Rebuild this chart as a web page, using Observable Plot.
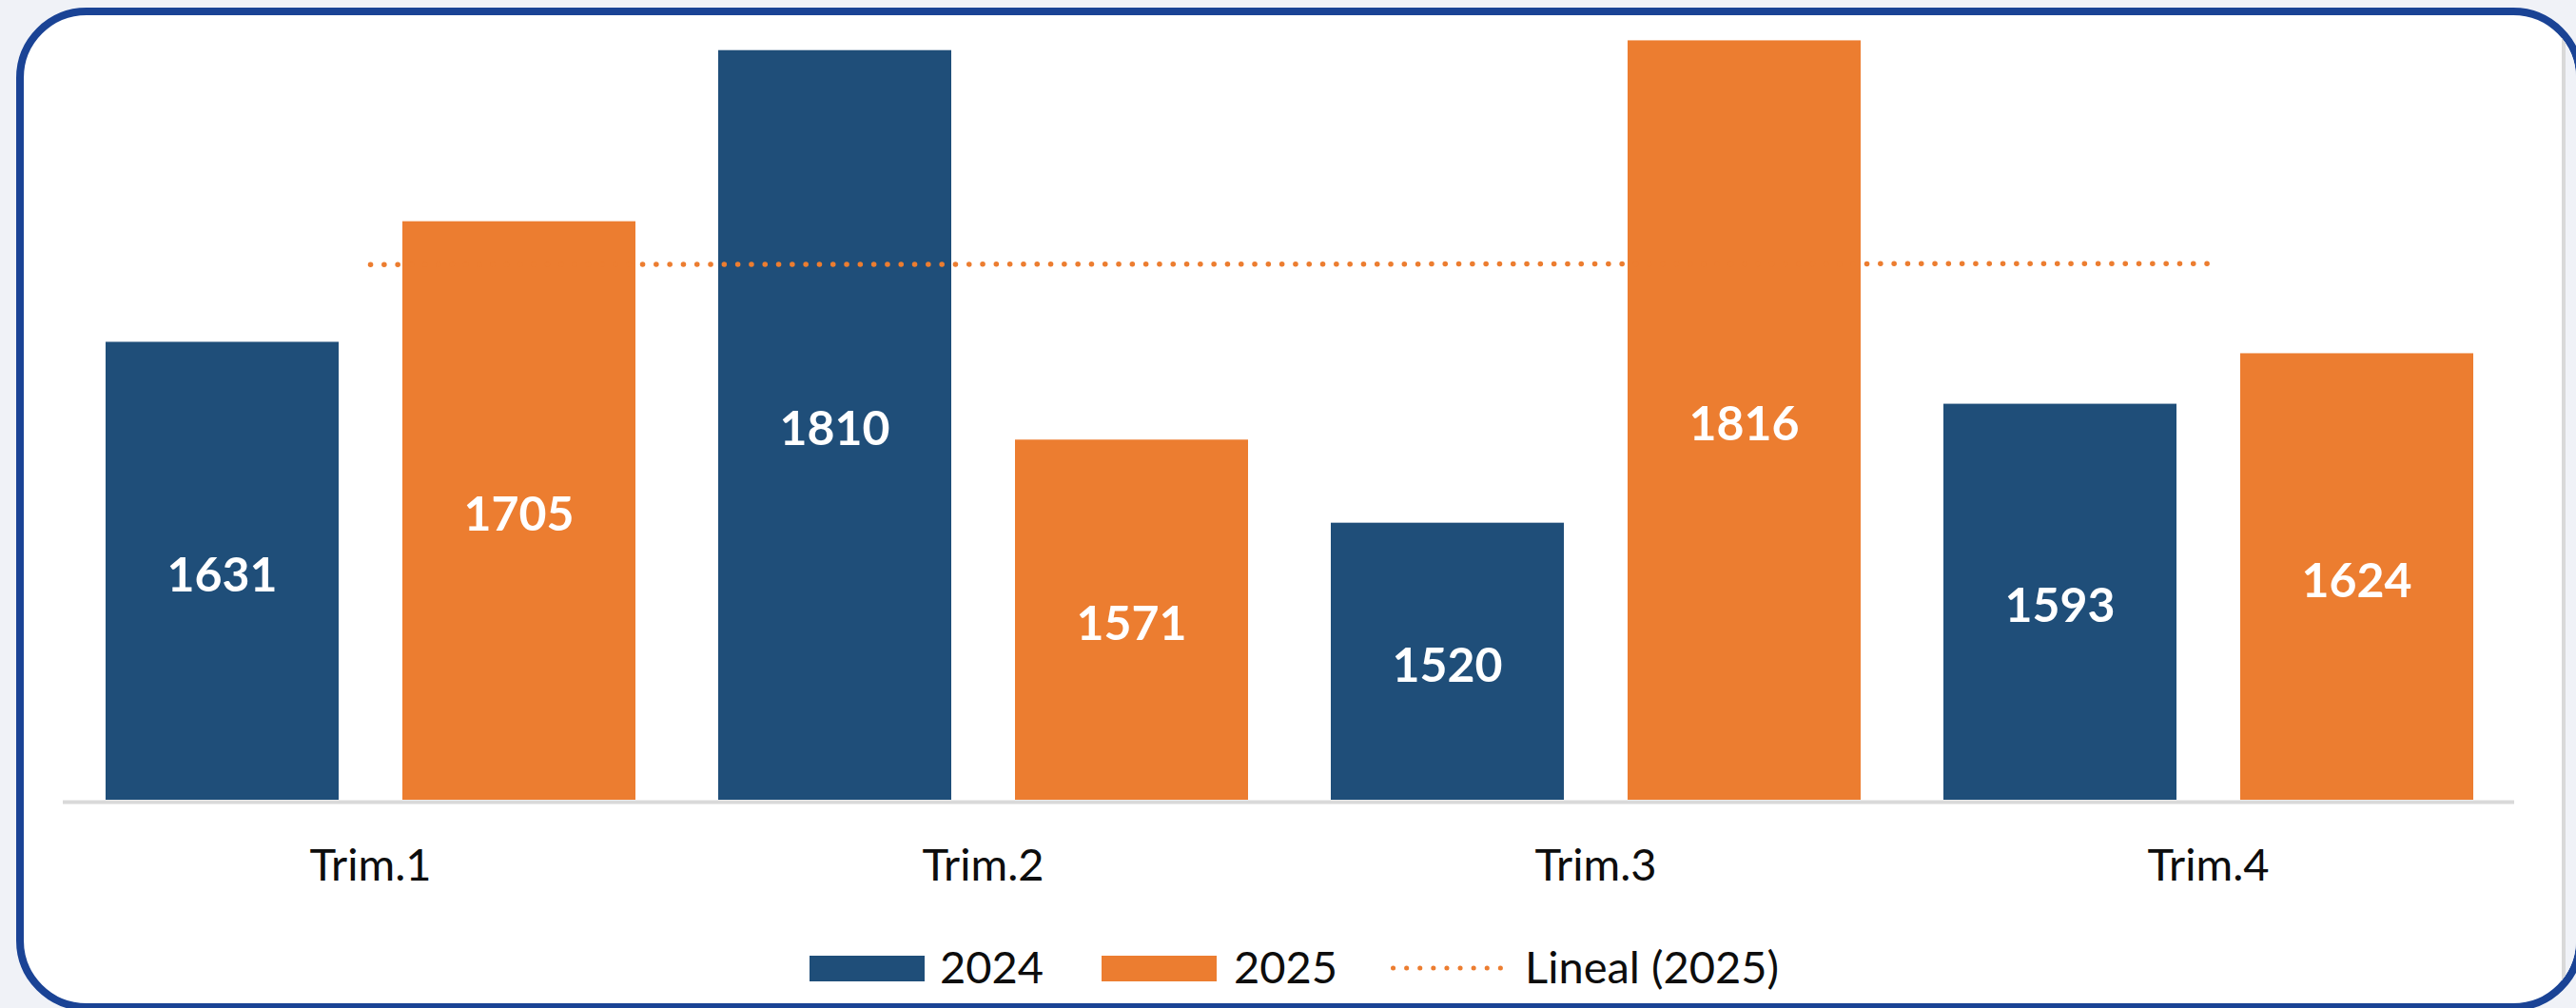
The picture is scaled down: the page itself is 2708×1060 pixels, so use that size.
<!DOCTYPE html>
<html><head><meta charset="utf-8">
<script src="https://cdn.jsdelivr.net/npm/d3@7"></script>
<script src="https://cdn.jsdelivr.net/npm/@observablehq/plot@0.6"></script>
<style>
html,body{margin:0;padding:0;background:#f0f2f7;width:2708px;height:1060px;overflow:hidden;font-family:Lato,"Open Sans",sans-serif;}
#card{position:absolute;left:17px;top:8px;width:2699px;height:1055px;box-sizing:border-box;border:8px solid #1a4395;border-radius:74px;background:#fff;overflow:hidden;}
#strip{position:absolute;left:2668px;top:0;width:60px;height:1100px;background:#f0f2f7;border-left:4px solid #d9d9d9;box-sizing:border-box;}
#chart{position:absolute;left:0;top:0;}
.sw{position:absolute;top:1005px;height:27px;width:121px;}
.lt{position:absolute;top:988px;font-size:47px;line-height:56px;color:#0d0d0d;white-space:nowrap;}
</style></head>
<body>
<div id="card"><div id="strip"></div></div>
<div id="chart"></div>
<div id="legend"></div>
<script>
const quarters = ["Trim.1","Trim.2","Trim.3","Trim.4"];
const years = ["2024","2025"];
const values2024 = [1631,1810,1520,1593];
const values2025 = [1705,1571,1816,1624];
const trendLabel = "Lineal (2025)";
const yMin = 1350, yMax = 1825;

const blue = "#1F4E79", orange = "#EC7D30";

const rows2024 = quarters.map((q,i)=>({quarter:q, year:years[0], value:values2024[i]}));
const rows2025 = quarters.map((q,i)=>({quarter:q, year:years[1], value:values2025[i]}));

// linear trendline over 2025 series (as Excel "Lineal")
const xs = d3.range(1, values2025.length + 1);
const mx = d3.mean(xs), my = d3.mean(values2025);
const slope = d3.sum(xs, (x,i)=>(x-mx)*(values2025[i]-my)) / d3.sum(xs, x=>(x-mx)**2);
const trend = quarters.map((q,i)=>({quarter:q, value: my + slope*(xs[i]-mx)}));

const plot = Plot.plot({
  width: 2693, height: 960,
  marginLeft: 66, marginRight: 50, marginTop: 27, marginBottom: 119,
  x: {domain: quarters, padding: 0, label: null},
  y: {domain: [yMin, yMax], axis: null},
  style: {fontFamily: "Lato, 'Open Sans', sans-serif", background: "transparent", color: "#0d0d0d", overflow: "visible"},
  marks: [
    Plot.ruleY([yMin], {stroke: "#d9d9d9", strokeWidth: 4, dy: 2}),
    Plot.barY(rows2024, {x: "quarter", y1: yMin, y2: "value", fill: blue, insetLeft: 44, insetRight: 355}),
    Plot.barY(rows2025, {x: "quarter", y1: yMin, y2: "value", fill: orange, insetLeft: 356, insetRight: 43}),
    Plot.line(trend, {x: "quarter", y: "value", stroke: orange, strokeWidth: 5.5, strokeDasharray: "0.1 14.2", strokeLinecap: "round"}),
    Plot.text(rows2024, {x: "quarter", y: d => (d.value + yMin) / 2, text: d => String(d.value), dx: -156, dy: 5, fill: "#fff", fontWeight: "bold", fontSize: 50}),
    Plot.text(rows2025, {x: "quarter", y: d => (d.value + yMin) / 2, text: d => String(d.value), dx: 156, dy: 5, fill: "#fff", fontWeight: "bold", fontSize: 50}),
    Plot.axisX({tickSize: 0, tickPadding: 51, fontSize: 47, label: null})
  ]
});
document.getElementById("chart").appendChild(plot);

// legend
const legend = document.getElementById("legend");
const items = [
  {type: "swatch", color: blue, label: years[0], sx: 851, tx: 988},
  {type: "swatch", color: orange, label: years[1], sx: 1158, tx: 1297},
  {type: "line", color: orange, label: trendLabel, sx: 1462, tx: 1603}
];
for (const it of items) {
  if (it.type === "swatch") {
    const s = document.createElement("div");
    s.className = "sw"; s.style.left = it.sx + "px"; s.style.background = it.color;
    legend.appendChild(s);
  } else {
    const ns = "http://www.w3.org/2000/svg";
    const svg = document.createElementNS(ns, "svg");
    svg.setAttribute("width", 125); svg.setAttribute("height", 20);
    svg.style.position = "absolute"; svg.style.left = (it.sx - 3) + "px"; svg.style.top = "1008px";
    const l = document.createElementNS(ns, "line");
    l.setAttribute("x1", 5.5); l.setAttribute("x2", 120); l.setAttribute("y1", 10); l.setAttribute("y2", 10);
    l.setAttribute("stroke", it.color); l.setAttribute("stroke-width", 5);
    l.setAttribute("stroke-dasharray", "0.1 14"); l.setAttribute("stroke-linecap", "round");
    svg.appendChild(l); legend.appendChild(svg);
  }
  const t = document.createElement("div");
  t.className = "lt"; t.style.left = it.tx + "px"; t.textContent = it.label;
  legend.appendChild(t);
}
</script>
</body></html>
